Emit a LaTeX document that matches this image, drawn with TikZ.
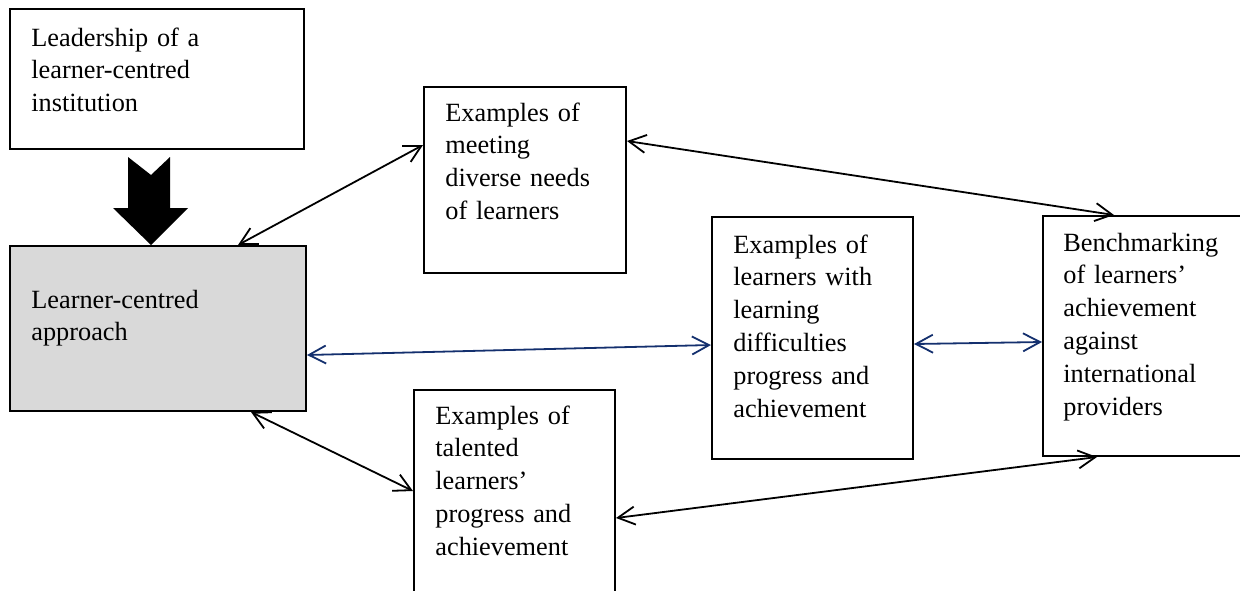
\documentclass[tikz,border=0pt]{standalone}
\usepackage{fontspec}
\setmainfont{Liberation Serif}
\usetikzlibrary{fit,arrows.meta}
\definecolor{navy}{HTML}{14306E}
\definecolor{shade}{HTML}{D9D9D9}
\begin{document}
	\begin{tikzpicture}
		[x=0.5pt,y=-0.5pt,
		>={Straight Barb[length=8.5pt,width=9pt]},
		box/.style={draw,line width=1pt,inner sep=0pt},
		txt/.style={anchor=base west,align=left,text width=110pt,inner sep=0pt,
			font=\fontsize{13.15}{16.4}\selectfont},
		link/.style={<->,line width=0.9pt}]
		\useasboundingbox (0,0) rectangle (1240,590);
		\clip (0,0) rectangle (1240,590);
		% boxes
		\node[box,fit={(10,9) (304,149)}] (lead) {};
		\node[box,fill=shade,fit={(10,246) (306,411)}] (approach) {};
		\node[box,fit={(424,87) (626,273)}] (meeting) {};
		\node[box,fit={(712,217) (913,459)}] (diff) {};
		\node[box,fit={(1043,216) (1250,456)}] (bench) {};
		\node[box,fit={(414,390) (615,610)}] (talent) {};
		% texts
		\node[txt] (lead-t) at ([shift={(22,38)}]lead.north west)
			{Leadership of a\\learner-centred\\institution};
		\node[txt] (approach-t) at ([shift={(22,63)}]approach.north west)
			{Learner-centred\\approach};
		\node[txt] (meeting-t) at ([shift={(22,35)}]meeting.north west)
			{Examples of\\meeting\\diverse needs\\of learners};
		\node[txt] (diff-t) at ([shift={(22,37)}]diff.north west)
			{Examples of\\learners with\\learning\\difficulties\\progress and\\achievement};
		\node[txt] (bench-t) at ([shift={(21,36)}]bench.north west)
			{Benchmarking\\of learners’\\achievement\\against\\international\\providers};
		\node[txt] (talent-t) at ([shift={(22,35)}]talent.north west)
			{Examples of\\talented\\learners’\\progress and\\achievement};
		% block arrow
		\fill (128,157) -- (151,175) -- (170,157) -- (170,208) -- (188,208)
			-- (151,245) -- (113,208) -- (128,208) -- cycle;
		% links
		\draw[link] ([xshift=-34.5pt]approach.north east) -- ([yshift=-29.5pt]meeting.north west);
		\draw[link] ([yshift=-27.5pt]meeting.north east) -- ([xshift=36pt]bench.north west);
		\draw[link,navy] ([yshift=-55pt]approach.north east) -- ([yshift=-64.5pt]diff.north west);
		\draw[link,navy] ([yshift=-3pt]diff.east) -- ([yshift=-3pt]bench.west);
		\draw[link] ([xshift=-28pt]approach.south east) -- ([yshift=-51pt]talent.north west);
		\draw[link] ([yshift=-64.5pt]talent.north east) -- ([xshift=27.5pt]bench.south west);
	\end{tikzpicture}
\end{document}
